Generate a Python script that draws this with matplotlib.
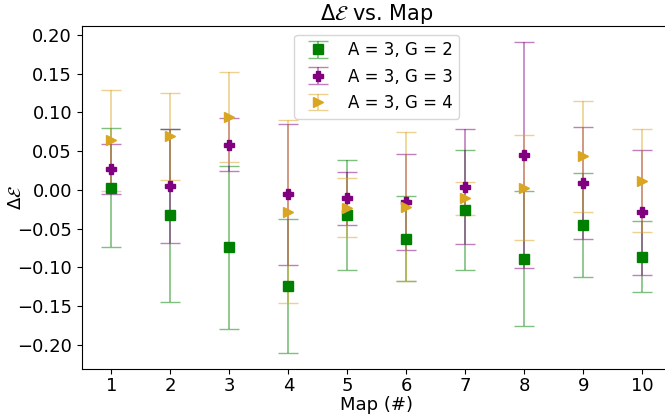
import numpy as np
import matplotlib
matplotlib.use("Agg")
import matplotlib.pyplot as plt

maps = [1, 2, 3, 4, 5, 6, 7, 8, 9, 10]

g2_mean = [0.003, -0.033, -0.074, -0.124, -0.033, -0.063, -0.026, -0.089, -0.045, -0.086]
g2_err = [0.077, 0.111, 0.105, 0.086, 0.071, 0.055, 0.077, 0.087, 0.067, 0.046]

g3_mean = [0.027, 0.005, 0.058, -0.006, -0.011, -0.016, 0.004, 0.045, 0.009, -0.029]
g3_err = [0.032, 0.073, 0.034, 0.091, 0.034, 0.062, 0.074, 0.146, 0.072, 0.081]

g4_mean = [0.064, 0.069, 0.094, -0.028, -0.023, -0.022, -0.011, 0.003, 0.043, 0.012]
g4_err = [0.065, 0.056, 0.058, 0.118, 0.038, 0.096, 0.021, 0.068, 0.072, 0.067]

series = [
    ("A = 3, G = 2", g2_mean, g2_err, "green", "s"),
    ("A = 3, G = 3", g3_mean, g3_err, "purple", "P"),
    ("A = 3, G = 4", g4_mean, g4_err, "goldenrod", ">"),
]

plt.rcParams["font.size"] = 13
fig, ax = plt.subplots(figsize=(6.65, 4.16), dpi=100)

for label, m, e, c, mk in series:
    eb = ax.errorbar(maps, m, yerr=e, fmt=mk, color=c, ecolor=c, capsize=7,
                     markersize=7, label=label, elinewidth=1.2)
    for cl in eb[1]:
        cl.set_alpha(0.5)
    for lc in eb[2]:
        lc.set_alpha(0.5)

ax.set_xlim(0.5, 10.5)
ax.set_ylim(-0.231, 0.211)
ax.set_xticks(maps)
ax.set_yticks([-0.20, -0.15, -0.10, -0.05, 0.00, 0.05, 0.10, 0.15, 0.20])
ax.tick_params(axis="x", pad=2)
ax.set_xlabel("Map (#)", labelpad=1)
ax.set_ylabel(r"$\Delta\mathcal{E}$")
ax.yaxis.set_label_coords(-0.097, 0.5)
ax.set_title(r"$\Delta\mathcal{E}$ vs. Map", fontsize=15, pad=4)
ax.legend(loc="upper center", fontsize=12)

fig.subplots_adjust(left=0.123, right=1.0105, top=0.937, bottom=0.113)
fig.savefig("out.png", dpi=100)
